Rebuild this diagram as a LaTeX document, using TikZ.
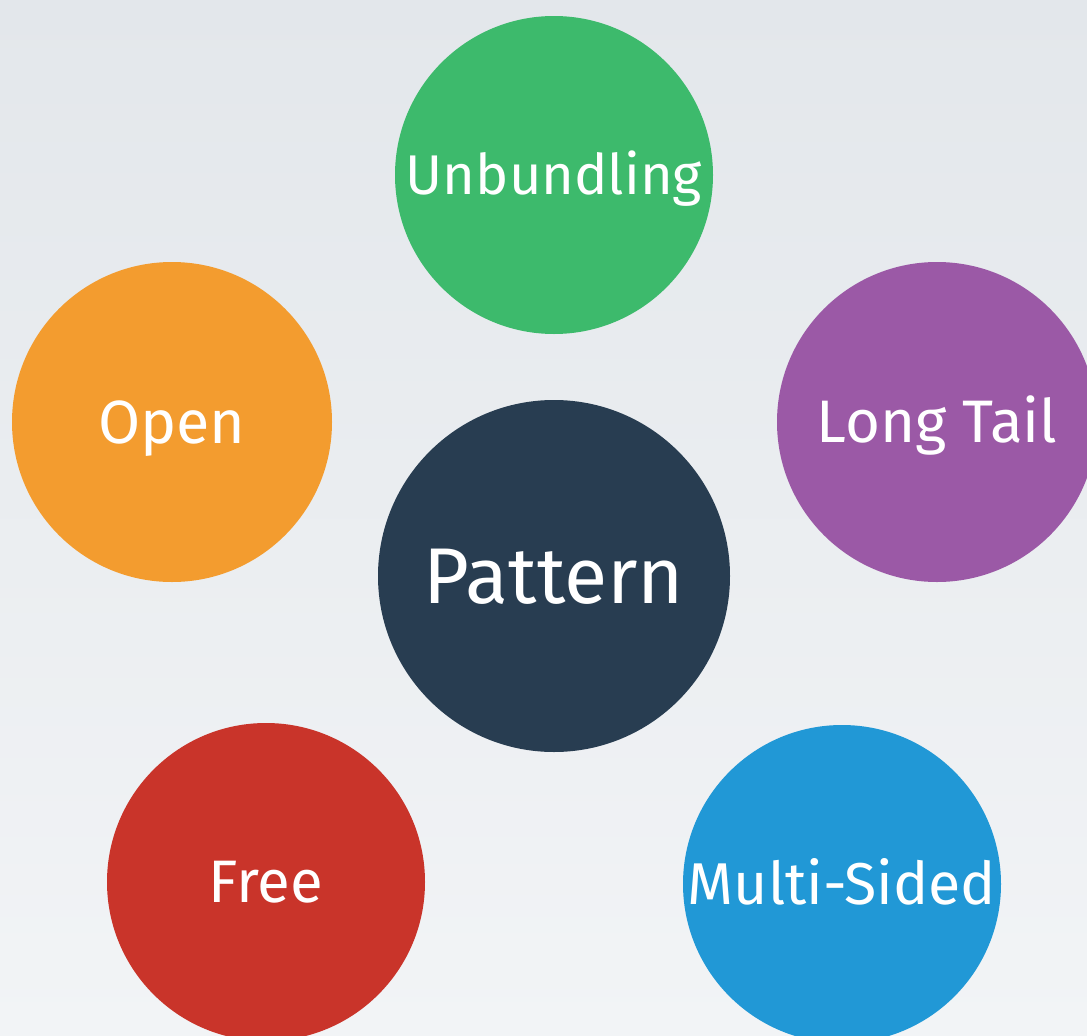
\documentclass[tikz,border=0pt]{standalone}
\usepackage{fontspec}
\setmainfont[Ligatures=NoCommon]{Fira Sans}
\newcommand{\bubblefont}[1]{\fontsize{#1}{#1}\selectfont}
\begin{document}
\begin{tikzpicture}[x=1pt,y=-1pt,
  bubble/.style={circle, inner sep=0pt, text=white, align=center, text depth=0pt},
  small/.style={bubble, minimum size=318pt},
  mid/.style={bubble, minimum size=320pt},
  big/.style={bubble, minimum size=352pt}]
  \definecolor{cgreen}{HTML}{3DBA6C}
  \definecolor{corange}{HTML}{F39C2F}
  \definecolor{cpurple}{HTML}{9B59A6}
  \definecolor{cnavy}{HTML}{283D51}
  \definecolor{cred}{HTML}{C9342A}
  \definecolor{cblue}{HTML}{2198D6}
  \definecolor{bgtop}{HTML}{E3E7EB}
  \definecolor{bgbot}{HTML}{F2F4F6}
  % backdrop
  \shade[top color=bgtop, bottom color=bgbot] (0,0) rectangle (1087,1036);
  \useasboundingbox (0,0) rectangle (1087,1036);
  % pattern bubbles
  \node[small, fill=cgreen, font=\bubblefont{56}, text height=39pt]
    (unbundling) at (554,175) {Unbundling};
  \node[mid, fill=corange, font=\bubblefont{61}, text height=42pt]
    (open) at (172,422) {Open};
  \node[mid, fill=cpurple, font=\bubblefont{60}, text height=41pt]
    (longtail) at (937,422) {Long Tail};
  \node[big, fill=cnavy, font=\bubblefont{79}, text height=54pt]
    (pattern) at (554,576) {Pattern};
  \node[small, fill=cred, font=\bubblefont{60}, text height=41pt]
    (free) at (266,882) {Free};
  \node[small, fill=cblue, font=\bubblefont{59}, text height=40pt]
    (multisided) at (842,884) {Multi-Sided};
\end{tikzpicture}
\end{document}
